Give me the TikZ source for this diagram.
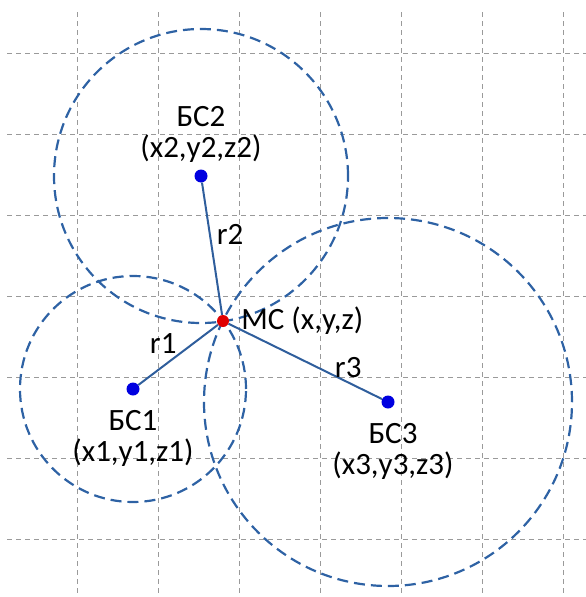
\documentclass[tikz,border=0pt]{standalone}
\usepackage{fontspec}
\setmainfont{Carlito}
\usetikzlibrary{positioning,backgrounds}
\definecolor{gridgray}{HTML}{9A9A9A}
\definecolor{linkblue}{HTML}{2F5E9C}
\definecolor{zoneblue}{HTML}{2E62A4}
\definecolor{bsblue}{HTML}{0000E0}
\definecolor{msred}{HTML}{E00000}

\begin{document}
\begin{tikzpicture}[x=1pt, y=-1pt,
  gridline/.style={gridgray, line width=1pt, dash pattern=on 5pt off 4pt},
  zone/.style={zoneblue, line width=2.2pt, dash pattern=on 11pt off 6pt},
  link/.style={linkblue, line width=2pt},
  bsdot/.style={circle, fill=bsblue, inner sep=0pt, minimum size=13pt},
  msdot/.style={circle, fill=msred, inner sep=0pt, minimum size=12pt},
  lbl/.style={font=\fontsize{31}{31}\selectfont, text=black, inner sep=0pt, align=center}]
\useasboundingbox (0,0) rectangle (586,597);
% stations and the mobile
\node[bsdot] (bs1) at (133,389) {};
\node[bsdot] (bs2) at (201,176) {};
\node[bsdot] (bs3) at (388,402) {};
\node[msdot] (ms) at (223,321) {};
% labels
\node[lbl, above=7pt of bs2] (bs2lbl) {БС2\\(x2,y2,z2)};
\node[lbl, below=14pt of bs1] (bs1lbl) {БС1\\(x1,y1,z1)};
\node[lbl, below=14pt of bs3, xshift=5pt] (bs3lbl) {БС3\\(x3,y3,z3)};
\node[lbl, right=12pt of ms] (mslbl) {МС (x,y,z)};
% ranges
\draw[link] (ms) -- node[lbl, pos=0.5, above left=1pt] (r1) {r1} (bs1);
\draw[link] (ms) -- node[lbl, pos=0.61, right=6pt] (r2) {r2} (bs2);
\draw[link] (ms) -- node[lbl, pos=0.78, above=4pt] (r3) {r3} (bs3);
\begin{scope}[on background layer]
% grid
\foreach \k in {0,...,6} {
  \draw[gridline] (77+81*\k,12) -- (77+81*\k,597);
  \draw[gridline] (7,53+81*\k) -- (586,53+81*\k);
}
% coverage circles
\draw[zone] (bs1.center) circle[radius=113pt];
\draw[zone] (bs2.center) circle[radius=147pt];
\draw[zone] (bs3.center) circle[radius=184pt];
\end{scope}
\end{tikzpicture}
\end{document}
